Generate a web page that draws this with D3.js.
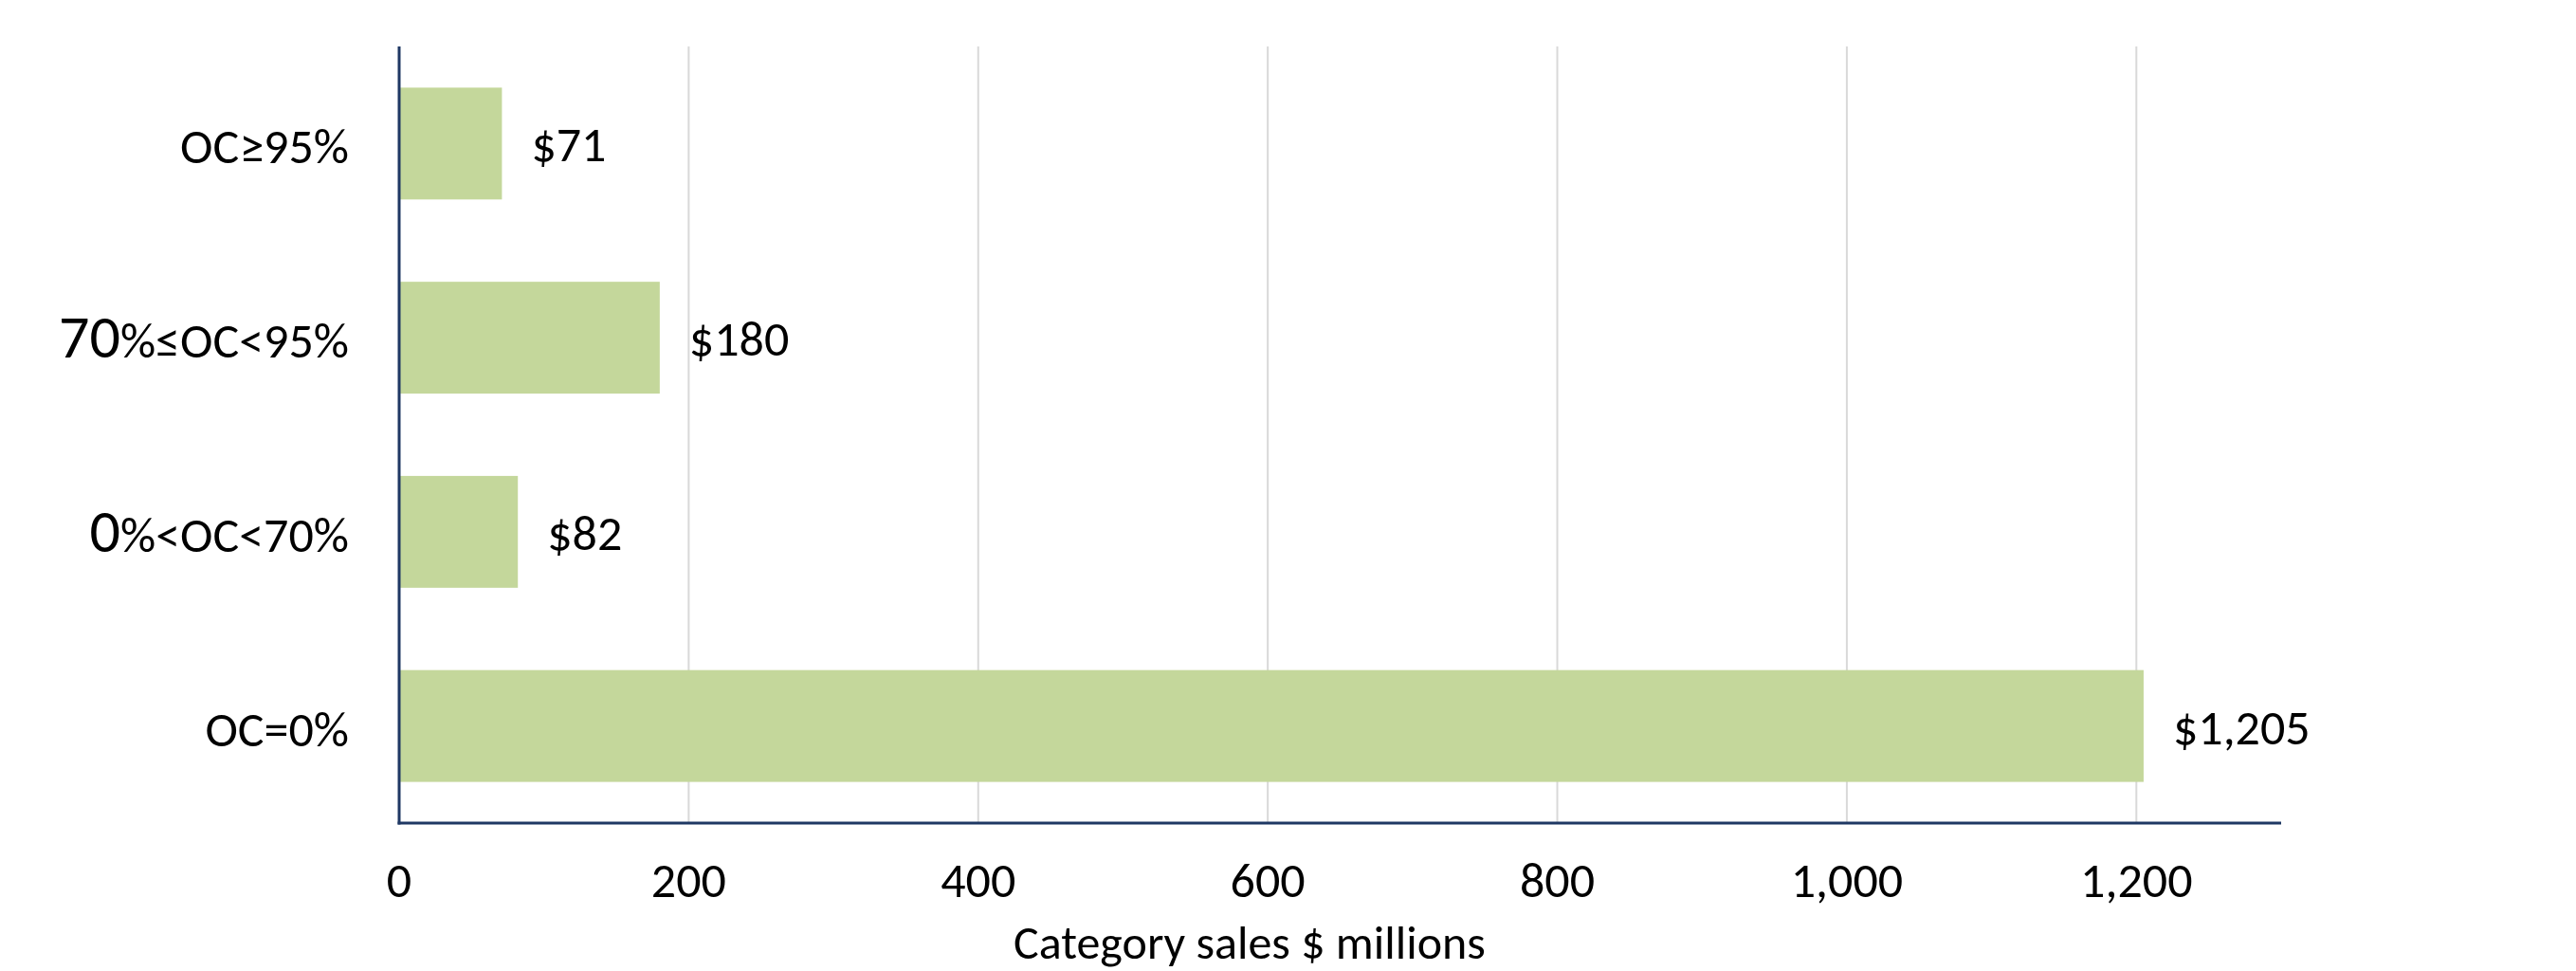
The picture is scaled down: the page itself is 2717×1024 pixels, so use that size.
<!DOCTYPE html>
<html lang="en">
<head>
    <meta charset="UTF-8">
    <title>Category sales by OC share</title>
    <script src="https://d3js.org/d3.v7.min.js"></script>
    <style>
        body {
            margin: 0;
            padding: 0;
            background: #fff;
        }
        svg {
            display: block;
            font-family: Carlito, Calibri, Lato, sans-serif;
        }
    </style>
</head>
<body>
    <svg id="chart" width="2717" height="1024"></svg>

    <script>
        // data, top bar first
        const categories = ["OC≥95%", "70%≤OC<95%", "0%<OC<70%", "OC=0%"];
        const sales = [71, 180, 82, 1205];
        const xTicks = [0, 200, 400, 600, 800, 1000, 1200];
        const xTitle = "Category sales $ millions";

        const svg = d3.select("#chart");
        const width = +svg.attr("width");
        const height = +svg.attr("height");

        const plot = { left: 421, right: 2406, top: 49, bottom: 868 };

        const x = d3.scaleLinear().domain([0, 1300]).range([plot.left, plot.right]);
        const y = d3.scaleBand()
            .domain(categories)
            .range([plot.top, plot.bottom])
            .paddingInner(0.424)
            .paddingOuter(0.212);

        const data = categories.map((c, i) => ({ cat: c, value: sales[i] }));

        svg.append("rect").attr("width", width).attr("height", height).attr("fill", "#fff");

        // vertical gridlines
        svg.append("g")
            .selectAll("line")
            .data(xTicks.filter(t => t > 0))
            .join("line")
            .attr("x1", d => x(d)).attr("x2", d => x(d))
            .attr("y1", plot.top).attr("y2", plot.bottom)
            .attr("stroke", "#d9d9d9")
            .attr("stroke-width", 2);

        // bars
        svg.append("g")
            .selectAll("rect")
            .data(data)
            .join("rect")
            .attr("x", x(0))
            .attr("y", d => y(d.cat))
            .attr("width", d => x(d.value) - x(0))
            .attr("height", y.bandwidth())
            .attr("fill", "#c4d79b");

        // value labels
        svg.append("g")
            .selectAll("text")
            .data(data)
            .join("text")
            .attr("x", d => x(d.value) + 31)
            .attr("y", d => y(d.cat) + y.bandwidth() / 2 + 19)
            .attr("font-size", 52)
            .attr("fill", "#000")
            .text(d => "$" + d3.format(",")(d.value));

        // axis lines
        svg.append("line")
            .attr("x1", plot.left).attr("x2", plot.left)
            .attr("y1", plot.top).attr("y2", plot.bottom + 1.5)
            .attr("stroke", "#1f3864").attr("stroke-width", 3);
        svg.append("line")
            .attr("x1", plot.left - 1.5).attr("x2", plot.right)
            .attr("y1", plot.bottom).attr("y2", plot.bottom)
            .attr("stroke", "#1f3864").attr("stroke-width", 3);

        // x tick labels
        svg.append("g")
            .selectAll("text")
            .data(xTicks)
            .join("text")
            .attr("x", d => x(d))
            .attr("y", 946)
            .attr("text-anchor", "middle")
            .attr("font-size", 52)
            .text(d => d3.format(",")(d));

        // category labels, a leading number is set a bit larger
        const catLabels = svg.append("g")
            .selectAll("text")
            .data(categories)
            .join("text")
            .attr("x", 368)
            .attr("y", d => y(d) + y.bandwidth() / 2 + 21)
            .attr("text-anchor", "end")
            .attr("font-size", 52);

        catLabels.each(function (d) {
            const m = d.match(/^(\d+)(.*)$/);
            const t = d3.select(this);
            if (m) {
                t.append("tspan").attr("font-size", 64).text(m[1]);
                t.append("tspan").text(m[2]);
            } else {
                t.text(d);
            }
        });

        // axis title
        svg.append("text")
            .attr("x", 1318)
            .attr("y", 1011)
            .attr("text-anchor", "middle")
            .attr("font-size", 50)
            .text(xTitle);
    </script>
</body>
</html>
